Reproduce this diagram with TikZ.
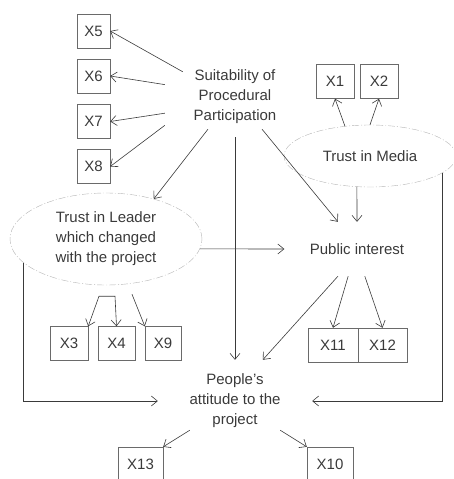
\documentclass[tikz,border=0pt]{standalone}
\usepackage{fontspec}
\setmainfont{Liberation Sans}
\usetikzlibrary{arrows.meta,shapes.geometric}
\definecolor{ink}{HTML}{3A3A3A}
\definecolor{boxgray}{HTML}{6A6A6A}
\definecolor{ovalgray}{HTML}{B4B4B4}
\newcommand{\xbox}[4]{\node[xbox, minimum width = #2] (#1) at (#3) {#4};}

\begin{document}
\begin{tikzpicture}[x = 1pt, y = -1pt, >={Straight Barb[length=6pt, width=10pt]},
  every node/.style = {text = ink, font = \fontsize{15}{20}\selectfont, align = center, inner sep = 0pt},
  xbox/.style = {draw = boxgray, minimum height = 34pt},
  oval/.style = {ellipse, draw = ovalgray, dash pattern = on 7pt off 2pt on 1pt off 2pt},
  link/.style = {draw = ink, ->, line width = 0.6pt}]
\useasboundingbox (0,0) rectangle (453,479);
% boxes
\xbox{x5}{33pt}{93.5,31}{X5}
\xbox{x6}{33pt}{93.5,76}{X6}
\xbox{x7}{33pt}{93.5,121.5}{X7}
\xbox{x8}{33pt}{93.5,166.5}{X8}
\xbox{x1}{38pt}{335,81.5}{X1}
\xbox{x2}{38pt}{379,81.5}{X2}
\xbox{x3}{38pt}{69,343.5}{X3}
\xbox{x4}{37pt}{116.5,343.5}{X4}
\xbox{x9}{36pt}{163,343.5}{X9}
\xbox{x11}{50pt}{333,345}{X11}
\xbox{x12}{49pt}{382.5,345}{X12}
\xbox{x13}{45pt}{140.5,464}{X13}
\xbox{x10}{46pt}{330,464}{X10}
% constructs
\node[minimum width = 140pt, minimum height = 64pt] (suit) at (235,97) {Suitability of\\Procedural\\Participation};
\node[oval, minimum width = 172pt, minimum height = 62pt] (media) at (370,156) {Trust in Media};
\node[oval, minimum width = 192pt, minimum height = 92pt] (leader) at (106,239) {Trust in Leader\\which changed\\with the project};
\node[minimum width = 145pt, minimum height = 54pt] (pub) at (357,249) {Public interest};
\node[minimum width = 154pt, minimum height = 82pt] (att) at (235,401) {People's\\attitude to the\\project};
% arrows
\draw[link] ([xshift=18pt, yshift=-7pt]suit.north west) -- (x5.east);
\draw[link] (suit.170) -- (x6.east);
\draw[link] (suit.193) -- (x7.east);
\draw[link] (suit.202) -- (x8.east);
\draw[link] (suit.230) -- (leader.40);
\draw[link] ([yshift=-8pt]suit.south) -- (att.north);
\draw[link] (suit.310) -- (pub.125);
\draw[link] (media.130) -- (x1.south);
\draw[link] (media.north) -- (x2.south);
\draw[link] (media.247) -- (pub.north);
\draw[link] (media.-13) |- (att.east);
\draw[link] (leader.-6) -- (pub.west);
\draw[link] (leader.196) |- (att.west);
\draw[link, <->] (x3.north east) -- ([shift={(-7pt,-11pt)}]leader.south) -- ([shift={(9pt,-11pt)}]leader.south) -- (x4.north);
\draw[link] ([shift={(26pt,-9pt)}]leader.south) -- (x9.north west);
\draw[link] (pub.252) -- (x11.north);
\draw[link] (pub.286) -- (x12.north);
\draw[link] (pub.235) -- (att.56);
\draw[link] ([xshift=32pt, yshift=12pt]att.south west) -- (x13.north east);
\draw[link] ([xshift=-32pt, yshift=12pt]att.south east) -- (x10.north west);
\end{tikzpicture}
\end{document}
